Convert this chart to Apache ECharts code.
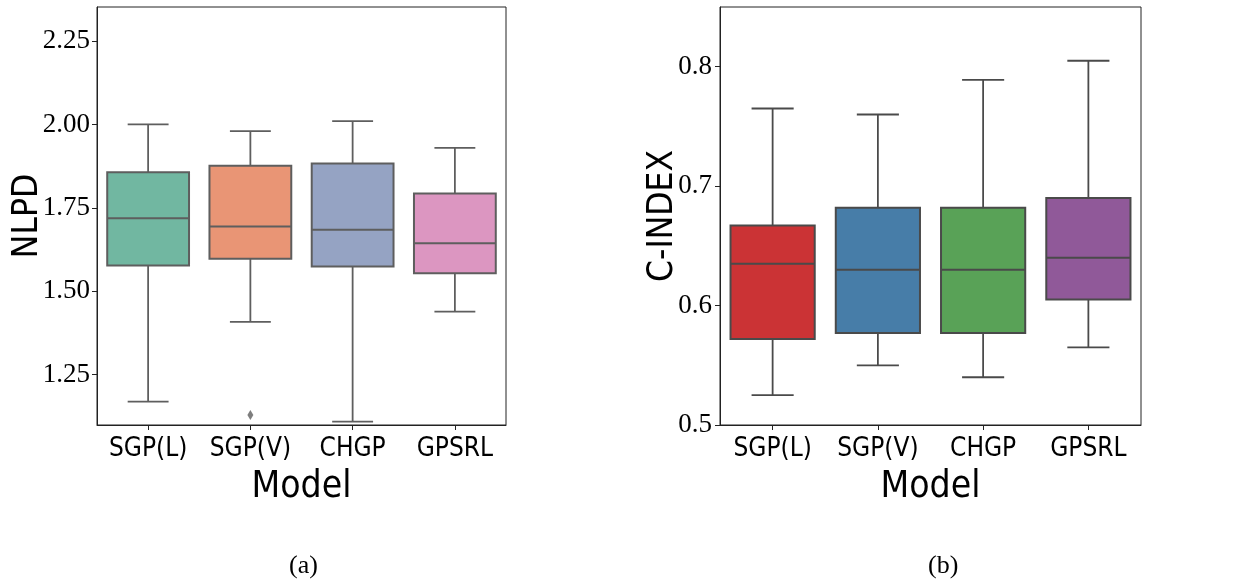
<!DOCTYPE html>
<html>
<head>
<meta charset="utf-8">
<script src="https://cdn.jsdelivr.net/npm/echarts@6/dist/echarts.min.js"></script>
<style>
  html, body { margin: 0; padding: 0; background: #fff; }
  #chart { width: 1239px; height: 585px; }
</style>
</head>
<body>
<div id="chart"></div>
<script>
const models = ['SGP(L)', 'SGP(V)', 'CHGP', 'GPSRL'];

// NLPD boxes (left)
const nlpdLow = [1.169, 1.408, 1.109, 1.439];
const nlpdQ1 = [1.577, 1.597, 1.574, 1.554];
const nlpdMedian = [1.719, 1.694, 1.684, 1.644];
const nlpdQ3 = [1.857, 1.876, 1.883, 1.793];
const nlpdHigh = [2.000, 1.980, 2.010, 1.930];
const nlpdOutliers = [[1, 1.129]];
const nlpdTicks = [1.25, 1.50, 1.75, 2.00, 2.25];

// C-INDEX boxes (right)
const cindexLow = [0.525, 0.550, 0.540, 0.565];
const cindexQ1 = [0.572, 0.577, 0.577, 0.605];
const cindexMedian = [0.635, 0.630, 0.630, 0.640];
const cindexQ3 = [0.667, 0.682, 0.682, 0.690];
const cindexHigh = [0.765, 0.760, 0.789, 0.805];
const cindexTicks = [0.5, 0.6, 0.7, 0.8];

const set2 = ['#71b7a1', '#e99575', '#95a3c3', '#dc96c1'];
const set1 = ['#cb3335', '#477da8', '#59a257', '#905999'];
const grayLeft = '#5e5e5e';
const grayRight = '#4a4a4a';

const serif = "'Liberation Serif', 'DejaVu Serif', serif";
const sans = "'DejaVu Sans Condensed', Roboto, sans-serif";

function boxRows(lo, q1, md, q3, hi) {
  return models.map((m, i) => [i, lo[i], q1[i], md[i], q3[i], hi[i]]);
}

function makeRender(colors, gray) {
  return function (params, api) {
    const x = api.value(0);
    const lo = api.coord([x, api.value(1)]);
    const q1 = api.coord([x, api.value(2)]);
    const md = api.coord([x, api.value(3)]);
    const q3 = api.coord([x, api.value(4)]);
    const hi = api.coord([x, api.value(5)]);
    const bw = api.size([1, 0])[0] * 0.8;
    const cx = lo[0];
    const st = { stroke: gray, lineWidth: 1.8 };
    return {
      type: 'group',
      children: [
        { type: 'line', shape: { x1: cx, y1: hi[1], x2: cx, y2: q3[1] }, style: st },
        { type: 'line', shape: { x1: cx, y1: q1[1], x2: cx, y2: lo[1] }, style: st },
        { type: 'line', shape: { x1: cx - bw / 4, y1: hi[1], x2: cx + bw / 4, y2: hi[1] }, style: st },
        { type: 'line', shape: { x1: cx - bw / 4, y1: lo[1], x2: cx + bw / 4, y2: lo[1] }, style: st },
        {
          type: 'rect',
          shape: { x: cx - bw / 2, y: q3[1], width: bw, height: q1[1] - q3[1] },
          style: { fill: colors[params.dataIndex], stroke: gray, lineWidth: 2 }
        },
        { type: 'line', shape: { x1: cx - bw / 2, y1: md[1], x2: cx + bw / 2, y2: md[1] }, style: { stroke: gray, lineWidth: 2 } }
      ]
    };
  };
}

function xAxisFor(gridIndex) {
  return {
    type: 'category',
    gridIndex: gridIndex,
    data: models,
    axisLine: { show: true, lineStyle: { color: '#222', width: 1 } },
    axisTick: { show: true, alignWithLabel: true, length: 5, lineStyle: { color: '#222' } },
    axisLabel: { interval: 0, color: '#000', fontFamily: sans, fontSize: 26, margin: 11 },
    name: 'Model',
    nameLocation: 'middle',
    nameGap: 44,
    nameMoveOverlap: false,
    nameTextStyle: { color: '#000', fontFamily: sans, fontSize: 37 }
  };
}

const chart = echarts.init(document.getElementById('chart'));
chart.setOption({
  backgroundColor: '#fff',
  animation: false,
  grid: [
    { left: 97, top: 7, width: 409, height: 418, show: true, borderColor: '#222', borderWidth: 1 },
    { left: 720, top: 7, width: 421, height: 418, show: true, borderColor: '#222', borderWidth: 1 }
  ],
  xAxis: [xAxisFor(0), xAxisFor(1)],
  yAxis: [
    {
      type: 'value',
      gridIndex: 0,
      min: 1.099,
      max: 2.352,
      splitLine: { show: false },
      axisLine: { show: true, lineStyle: { color: '#222' } },
      axisTick: { show: true, length: 5, customValues: nlpdTicks, lineStyle: { color: '#222' } },
      axisLabel: {
        customValues: nlpdTicks,
        color: '#000', fontFamily: serif, fontSize: 27, margin: 7,
        formatter: v => v.toFixed(2)
      },
      name: 'NLPD',
      nameLocation: 'middle',
      nameGap: 52,
      nameMoveOverlap: false,
      nameTextStyle: { color: '#000', fontFamily: sans, fontSize: 35 }
    },
    {
      type: 'value',
      gridIndex: 1,
      min: 0.5,
      max: 0.85,
      splitLine: { show: false },
      axisLine: { show: true, lineStyle: { color: '#222' } },
      axisTick: { show: true, length: 5, customValues: cindexTicks, lineStyle: { color: '#222' } },
      axisLabel: {
        customValues: cindexTicks,
        color: '#000', fontFamily: serif, fontSize: 27, margin: 8,
        formatter: v => v.toFixed(1)
      },
      name: 'C-INDEX',
      nameLocation: 'middle',
      nameGap: 40,
      nameMoveOverlap: false,
      nameTextStyle: { color: '#000', fontFamily: sans, fontSize: 35 }
    }
  ],
  graphic: [
    { type: 'text', left: 289, top: 553, style: { text: '(a)', font: "26px 'Liberation Serif', serif", fill: '#000' } },
    { type: 'text', left: 928, top: 553, style: { text: '(b)', font: "26px 'Liberation Serif', serif", fill: '#000' } }
  ],
  series: [
    {
      type: 'custom',
      xAxisIndex: 0,
      yAxisIndex: 0,
      renderItem: makeRender(set2, grayLeft),
      encode: { x: 0, y: [1, 2, 3, 4, 5] },
      data: boxRows(nlpdLow, nlpdQ1, nlpdMedian, nlpdQ3, nlpdHigh)
    },
    {
      type: 'scatter',
      xAxisIndex: 0,
      yAxisIndex: 0,
      symbol: 'diamond',
      symbolSize: [6, 10],
      itemStyle: { color: grayLeft },
      data: nlpdOutliers
    },
    {
      type: 'custom',
      xAxisIndex: 1,
      yAxisIndex: 1,
      renderItem: makeRender(set1, grayRight),
      encode: { x: 0, y: [1, 2, 3, 4, 5] },
      data: boxRows(cindexLow, cindexQ1, cindexMedian, cindexQ3, cindexHigh)
    }
  ]
});
</script>
</body>
</html>
